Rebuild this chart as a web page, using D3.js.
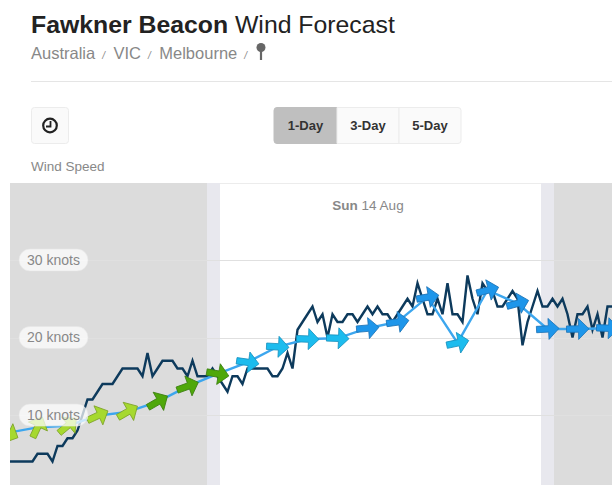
<!DOCTYPE html>
<html>
<head>
<meta charset="utf-8">
<script src="https://cdn.jsdelivr.net/npm/d3@7"></script>
<style>
  html, body { margin: 0; padding: 0; background: #fff; overflow: hidden; }
  svg { display: block; font-family: "Liberation Sans", Arial, sans-serif; }
</style>
</head>
<body>
<svg id="chart" width="612" height="485"></svg>
<script>
// Knot gridlines
const knotTicks = [10, 20, 30];

// Daylight bands, minutes after midnight
const nightEnd = 394, sunrise = 420, sunset = 1062, nightStart = 1088;

// Observed wind, one reading every 10 minutes from -5 min
const obsKnots = [
  4, 4, 4, 4, 4, 4, 5, 5, 5, 4, 6, 6, 7, 7, 8, 10, 12, 12, 13, 14,
  14, 14, 15, 16, 16, 16, 16, 15, 18, 15, 16, 17, 17, 17, 16, 16, 15, 17, 15, 15,
  15, 16, 15, 14, 13, 15, 15, 14, 16, 16, 16, 16, 16, 15, 15, 16, 18, 16, 21, 22,
  23, 24, 22, 23, 20, 23, 22, 22, 23, 23, 22, 23, 24, 23, 24, 23, 23, 22, 23, 24,
  25, 24, 27, 25, 23, 23, 25, 23, 27, 23, 23, 22, 28, 25, 23, 27, 26, 26, 24, 24,
  25, 26, 25, 19, 22, 24, 26, 24, 24, 25, 24, 25, 23, 20, 23, 23, 24, 21, 23, 20,
  24, 24
];

// Hourly forecast, from -5 min
const forecastKnots = [
  7.7, 8.4, 8.6, 9.9, 10.4, 11.7, 13.7, 15.3, 16.8, 18.8, 19.8,
  19.9, 21.2, 22, 25.2, 19.3, 26.1, 24.4, 21.1, 21.1, 21.2
];
// Arrow heading on screen, degrees clockwise from pointing right
const forecastHeading = [
  25, -65, -40, -25, -30, -30, -20, 10, 8, 3, 2,
  2, -5, -8, -10, -12, -15, -15, -3, -1, 2
];

const speedLimits = [10.6, 16, 21];
const arrowFills = ['#a6d92f', '#4fa80a', '#1cbcee', '#1e96ea'];
const arrowStrokes = ['#7ea32a', '#3c7f10', '#1690bd', '#1b72b5'];

const svg = d3.select('#chart');

const x = d3.scaleLinear().domain([0, 1204]).range([10, 612]);
const y = d3.scaleLinear().domain([0, 30]).range([492.5, 260]);
const arrowFill = d3.scaleThreshold().domain(speedLimits).range(arrowFills);
const arrowStroke = d3.scaleThreshold().domain(speedLimits).range(arrowStrokes);

const plotTop = 183, plotBottom = 485;

// Page header
const title = svg.append('text').attr('x', 31).attr('y', 33)
  .attr('font-size', 24.8).attr('fill', '#222');
title.append('tspan').attr('font-weight', 'bold').text('Fawkner Beacon');
title.append('tspan').text(' Wind Forecast');

const crumbs = svg.append('text').attr('x', 31).attr('y', 59)
  .attr('font-size', 16.5).attr('fill', '#888');
['Australia', 'VIC', 'Melbourne'].forEach((c, i) => {
  crumbs.append('tspan').attr('dx', i ? 8.5 : 0).text(c);
  crumbs.append('tspan').attr('font-size', 10).attr('font-style', 'italic').attr('dx', 7).text('/');
});

// Pin icon
svg.append('line').attr('x1', 261).attr('x2', 261).attr('y1', 46).attr('y2', 60)
  .attr('stroke', '#666').attr('stroke-width', 2.2);
svg.append('circle').attr('cx', 261).attr('cy', 47.5).attr('r', 4.5).attr('fill', '#666');

svg.append('line').attr('x1', 31).attr('x2', 612).attr('y1', 81.5).attr('y2', 81.5)
  .attr('stroke', '#e5e5e5');

// Clock button
svg.append('rect').attr('x', 31.5).attr('y', 107.5).attr('width', 37).attr('height', 36).attr('rx', 3)
  .attr('fill', '#fafafa').attr('stroke', '#ececec');
svg.append('circle').attr('cx', 50).attr('cy', 125.5).attr('r', 6.8)
  .attr('fill', 'none').attr('stroke', '#222').attr('stroke-width', 2.2);
svg.append('path').attr('d', 'M50.5 121V126.5H46')
  .attr('fill', 'none').attr('stroke', '#222').attr('stroke-width', 1.8);

// Range buttons
const rangeButtons = [
  { label: '1-Day', x0: 274, x1: 337, fill: '#bfbfbf' },
  { label: '3-Day', x0: 337, x1: 399, fill: '#fafafa' },
  { label: '5-Day', x0: 399, x1: 461, fill: '#fafafa' },
];
rangeButtons.forEach((b, i) => {
  svg.append('path')
    .attr('d', i === 0
      ? `M${b.x1} 107.5H${b.x0 + 3}Q${b.x0} 107.5 ${b.x0} 110.5V140.5Q${b.x0} 143.5 ${b.x0 + 3} 143.5H${b.x1}Z`
      : i === 2
        ? `M${b.x0} 107.5H${b.x1 - 3}Q${b.x1} 107.5 ${b.x1} 110.5V140.5Q${b.x1} 143.5 ${b.x1 - 3} 143.5H${b.x0}Z`
        : `M${b.x0} 107.5H${b.x1}V143.5H${b.x0}Z`)
    .attr('fill', b.fill).attr('stroke', i === 0 ? '#bfbfbf' : '#ececec');
  svg.append('text').attr('x', (b.x0 + b.x1) / 2).attr('y', 130)
    .attr('text-anchor', 'middle').attr('font-size', 13).attr('font-weight', 'bold')
    .attr('fill', '#333').text(b.label);
});

svg.append('text').attr('x', 31).attr('y', 171).attr('font-size', 13.5).attr('fill', '#888')
  .text('Wind Speed');

// Day and night bands
const bands = [
  [0, nightEnd, '#dcdcdc'],
  [nightEnd, sunrise, '#e8e8ee'],
  [sunset, nightStart, '#e8e8ee'],
  [nightStart, 1204, '#dcdcdc'],
];
svg.append('g').selectAll('rect').data(bands).join('rect')
  .attr('x', (d) => x(d[0]))
  .attr('width', (d) => x(d[1]) - x(d[0]))
  .attr('y', plotTop)
  .attr('height', plotBottom - plotTop)
  .attr('fill', (d) => d[2]);
svg.append('line').attr('x1', x(sunrise)).attr('x2', x(sunset)).attr('y1', plotTop + 0.5).attr('y2', plotTop + 0.5)
  .attr('stroke', '#ececec');

const dayLabel = svg.append('text').attr('x', 368).attr('y', 210)
  .attr('text-anchor', 'middle').attr('font-size', 13.5).attr('fill', '#888');
dayLabel.append('tspan').attr('font-weight', 'bold').text('Sun');
dayLabel.append('tspan').text(' 14 Aug');

// Gridlines
svg.append('g').selectAll('line').data(knotTicks).join('line')
  .attr('x1', 10).attr('x2', 612)
  .attr('y1', (d) => Math.round(y(d)) + 0.5).attr('y2', (d) => Math.round(y(d)) + 0.5)
  .attr('stroke', '#e0e0e0');

svg.append('clipPath').attr('id', 'plot-clip').append('rect')
  .attr('x', 10).attr('y', plotTop).attr('width', 602).attr('height', plotBottom - plotTop);
const plot = svg.append('g').attr('clip-path', 'url(#plot-clip)');

const forecastTime = (i) => i * 60 - 5;
const obsTime = (i) => i * 10 - 5;

plot.append('path')
  .attr('d', d3.line().x((d, i) => x(obsTime(i))).y((d) => y(d))(obsKnots))
  .attr('fill', 'none').attr('stroke', '#0d3a5c').attr('stroke-width', 2.4).attr('stroke-linejoin', 'miter');

plot.append('path')
  .attr('d', d3.line().x((d, i) => x(forecastTime(i))).y((d) => y(d))(forecastKnots))
  .attr('fill', 'none').attr('stroke', '#3ca6ee').attr('stroke-width', 2.4);

// Arrow glyph pointing right, centred on the forecast point
const arrowShape = 'M-11 -3.2H1V-10.5L11.5 0L1 10.5V3.2H-11Z';
plot.append('g').selectAll('path').data(forecastKnots).join('path')
  .attr('d', arrowShape)
  .attr('transform', (d, i) => `translate(${x(forecastTime(i))},${y(d)}) rotate(${forecastHeading[i]})`)
  .attr('fill', (d) => arrowFill(d))
  .attr('stroke', (d) => arrowStroke(d))
  .attr('stroke-width', 0.8);

// Knot labels
const pills = svg.append('g').selectAll('g').data(knotTicks).join('g')
  .attr('transform', (d) => `translate(19,${y(d)})`);
pills.append('rect').attr('y', -11).attr('width', 69).attr('height', 22).attr('rx', 11)
  .attr('fill', '#fff').attr('fill-opacity', 0.72).attr('stroke', '#e6e6e6').attr('stroke-opacity', 0.6);
pills.append('text').attr('x', 34.5).attr('y', 4.5).attr('text-anchor', 'middle')
  .attr('font-size', 14).attr('fill', '#888').text((d) => `${d} knots`);
</script>
</body>
</html>
